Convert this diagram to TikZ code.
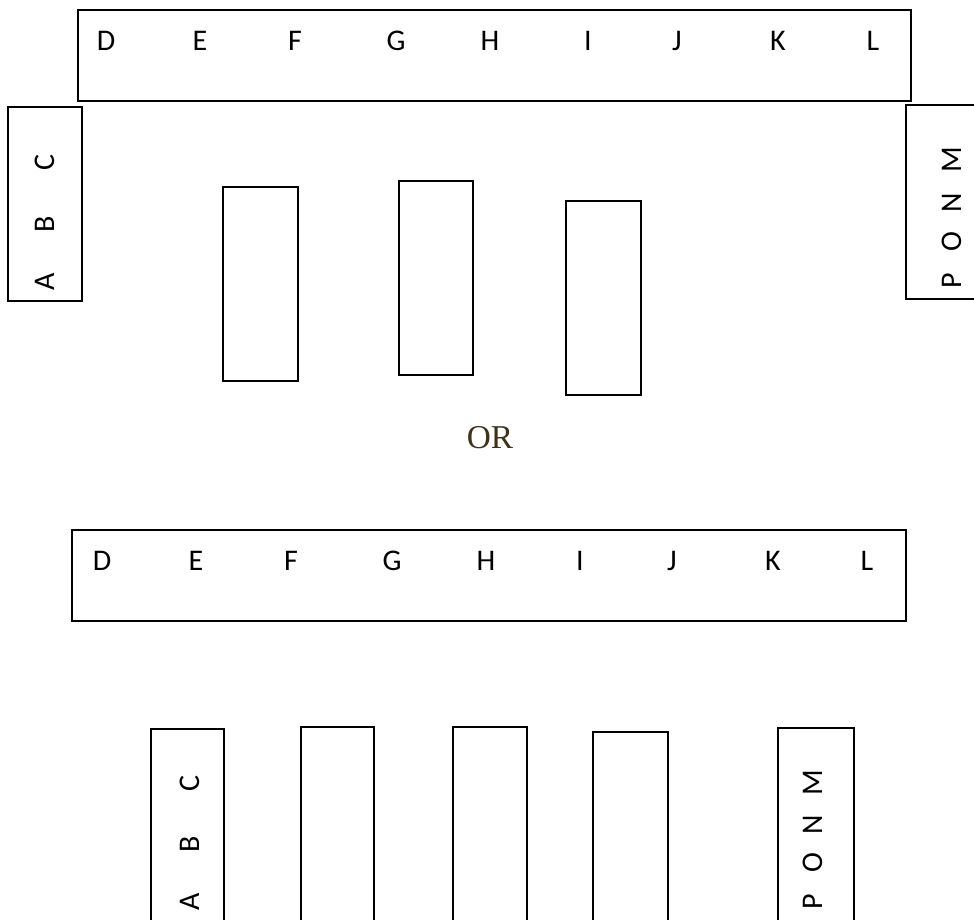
\documentclass[tikz,border=0pt]{standalone}
\usepackage{fontspec}
\setmainfont{Carlito}
\newfontfamily\orfont{Liberation Serif}
\definecolor{orbrown}{RGB}{64,49,27}

\begin{document}
\begin{tikzpicture}[x=0.75pt, y=-0.75pt, line width=1.3pt,
    every node/.style={inner sep=0pt, font=\fontsize{22.5}{25}\selectfont, text height=14.4pt, text depth=0pt}]
    \useasboundingbox (0,0) rectangle (974,920);
    \clip (0,0) rectangle (974,920);

    % first layout: long table
    \draw (78,10) rectangle (911,101);
    \foreach \l/\x in {D/106, E/200, F/295, G/396, H/490, I/588, J/677, K/778, L/873}
        \node (u\l) at (\x,40.5) {\l};

    % side tables
    \draw (8,107) rectangle (82,301);
    \foreach \l/\y in {A/282, B/224, C/163}
        \node[rotate=90] (u\l) at (45,\y) {\l};
    \draw (906,105) rectangle (990,299);
    \foreach \l/\y in {M/160, N/203, O/242, P/281}
        \node[rotate=90] (u\l) at (952,\y) {\l};

    % free tables
    \draw (223,187) rectangle (298,381);
    \draw (399,181) rectangle (473,375);
    \draw (566,201) rectangle (641,395);

    \node[font=\orfont\fontsize{25}{28}\selectfont, text=orbrown, text height=16.5pt] (or) at (490,437) {OR};

    % second layout: long table
    \draw (72,530) rectangle (906,621);
    \foreach \l/\x in {D/102, E/196, F/291, G/392, H/486, I/580, J/672, K/773, L/867}
        \node (w\l) at (\x,560.5) {\l};

    % row of tables
    \draw (151,729) rectangle (224,940);
    \foreach \l/\y in {A/902, B/844, C/783}
        \node[rotate=90] (w\l) at (190,\y) {\l};
    \draw (301,727) rectangle (374,940);
    \draw (453,727) rectangle (527,940);
    \draw (593,732) rectangle (668,940);
    \draw (778,728) rectangle (854,940);
    \foreach \l/\y in {M/783, N/825, O/863, P/902}
        \node[rotate=90] (w\l) at (813,\y) {\l};
\end{tikzpicture}
\end{document}
